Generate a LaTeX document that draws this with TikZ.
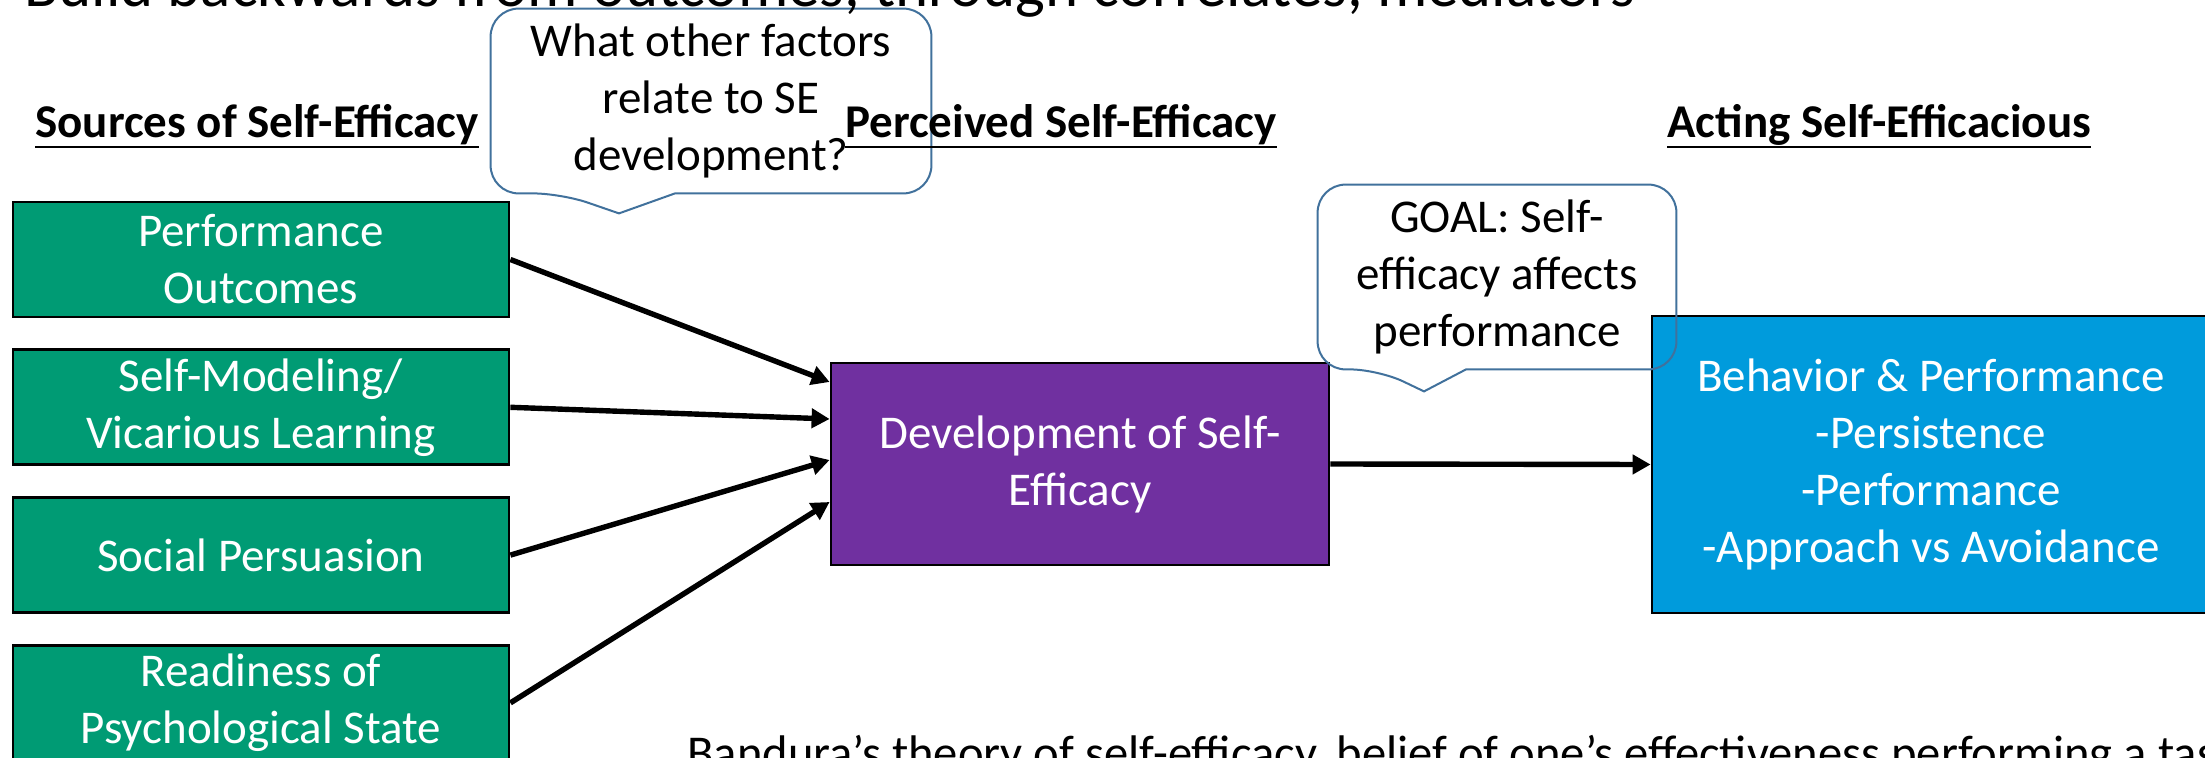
\documentclass[tikz,border=0pt]{standalone}
\usepackage{fontspec}
\setmainfont{Carlito}
\usetikzlibrary{arrows.meta,positioning}

\definecolor{srcgreen}{HTML}{009B74}
\definecolor{devpurple}{HTML}{7030A0}
\definecolor{actblue}{HTML}{009BDC}
\definecolor{noteblue}{HTML}{41719C}

\begin{document}
\begin{tikzpicture}[x=0.5pt, y=-0.5pt,
  txt/.style={font=\fontsize{23.5}{28.5}\selectfont, align=center},
  head/.style={font=\bfseries\fontsize{23.5}{28.5}\selectfont, inner sep=0pt, anchor=base west},
  box/.style={txt, draw=black, line width=1.4pt, text=white, inner sep=0pt},
  srcbox/.style={box, fill=srcgreen, minimum width=248pt, minimum height=57.5pt},
  note/.style={txt, inner sep=0pt},
  noteline/.style={draw=noteblue, line width=1pt},
  link/.style={line width=2.7pt, -{Triangle[length=9pt,width=9.5pt]}},
  uline/.style={line width=1.4pt}
]

\useasboundingbox (0,0) rectangle (2205,758);
\clip (0,0) rectangle (2205,758);

\node[srcbox] (po) at (261,259.5) {Performance\\Outcomes};
\node[srcbox, below=15pt of po] (sm) {Self-Modeling/\\Vicarious Learning};
\node[srcbox, below=15pt of sm] (sp) {Social Persuasion};
\node[srcbox, below=15pt of sp] (rp) {Readiness of\\Psychological State};

\node[box, fill=devpurple, minimum width=249pt, minimum height=101pt] (dev) at (1080,464) {Development of Self-\\Efficacy};
\node[box, fill=actblue, minimum width=279pt, minimum height=148.5pt] (beh) at (1931,464.5)
  {Behavior \& Performance\\-Persistence\\-Performance\\-Approach vs Avoidance};
%%

\draw[link] (po.east) -- ([yshift=41pt]dev.west);
\draw[link] (sm.east) -- ([yshift=22.5pt]dev.west);
\draw[link] (sp.east) -- ([yshift=2pt]dev.west);
\draw[link] (rp.east) -- ([yshift=-19pt]dev.west);
\draw[link] (dev.east) -- (beh.west);
%%

\node[note, minimum width=220pt, minimum height=92pt] (q1) at (711,101) {What other factors\\relate to SE\\development?};
\draw[noteline] ([xshift=-18pt]q1.south) [rounded corners=14pt] -- (q1.south east) -- (q1.north east)
  -- (q1.north west) -- (q1.south west) -- ([xshift=-75pt]q1.south) [sharp corners]
  -- ([xshift=-46pt,yshift=-10pt]q1.south) -- cycle;

\node[note, minimum width=179pt, minimum height=92pt] (q2) at (1497,277) {GOAL: Self-\\efficacy affects\\performance};
\draw[noteline] ([xshift=-15.5pt]q2.south) [rounded corners=14pt] -- (q2.south east) -- (q2.north east)
  -- (q2.north west) -- (q2.south west) -- ([xshift=-59.5pt]q2.south) [sharp corners]
  -- ([xshift=-36.5pt,yshift=-11pt]q2.south) -- cycle;
%%

\node[head] (hsrc) at (35,138) {Sources of Self-Efficacy};
\node[head] (hper) at (845,138) {Perceived Self-Efficacy};
\node[head] (hact) at (1667,138) {Acting Self-Efficacious};
\draw[uline] ([yshift=-4.5pt]hsrc.base west) -- ([yshift=-4.5pt]hsrc.base east);
\draw[uline] ([yshift=-4.5pt]hper.base west) -- ([yshift=-4.5pt]hper.base east);
\draw[uline] ([yshift=-4.5pt]hact.base west) -- ([yshift=-4.5pt]hact.base east);
%%

\node[anchor=base west, inner sep=0pt, font=\fontsize{31.5}{38}\selectfont] (title) at (24,7)
  {Build backwards from outcomes, through correlates, mediators};
\node[anchor=base west, inner sep=0pt, font=\fontsize{24.3}{29}\selectfont] (bandura) at (687,769)
  {Bandura's theory of self-efficacy, belief of one's effectiveness performing a task};

\end{tikzpicture}
\end{document}
